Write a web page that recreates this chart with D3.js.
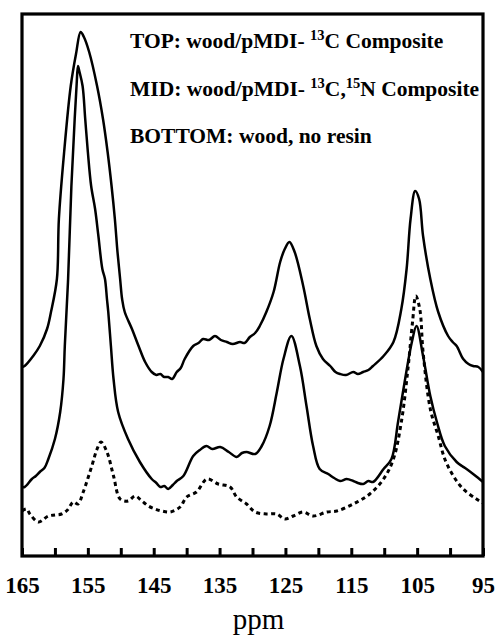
<!DOCTYPE html>
<html>
<head>
<meta charset="utf-8">
<script src="https://cdn.jsdelivr.net/npm/d3@7"></script>
<style>
  body { margin: 0; background: #fff; }
  svg { display: block; }
</style>
</head>
<body>
<script>
const width = 500;
const height = 640;

// frame of the spectrum box
const LEFT = 22, RIGHT = 483, TOP = 14, BOTTOM = 556;

// x axis, ppm (reversed, as usual for NMR)
const ppmDomain = [165, 95];
const tickValues = [165, 160, 155, 150, 145, 140, 135, 130, 125, 120, 115, 110, 105, 100, 95];
const labelValues = [165, 155, 145, 135, 125, 115, 105, 95];

// legend lines: [text, isSuperscript]
const legendLines = [
  [["TOP: wood/pMDI- ", 0], ["13", 1], ["C Composite", 0]],
  [["MID: wood/pMDI- ", 0], ["13", 1], ["C,", 0], ["15", 1], ["N Composite", 0]],
  [["BOTTOM: wood, no resin", 0]]
];

// spectra: [ppm, intensity (a.u.)]
const topSpectrum = [
  [165.0, 189], [164.6, 190], [163.3, 200], [162.3, 210], [161.2, 227], [160.6, 244],
  [159.7, 277], [159.4, 337], [158.6, 404], [157.6, 470], [156.8, 502], [156.1, 524],
  [155.6, 519], [154.8, 504], [153.6, 470], [152.7, 437], [152.0, 404], [151.4, 370],
  [150.9, 337], [150.5, 304], [150.1, 277], [149.8, 257], [149.4, 244], [148.3, 227],
  [147.3, 210], [146.3, 194], [145.3, 184], [144.6, 181], [144.0, 182], [143.4, 179],
  [142.8, 179], [142.2, 177], [141.5, 184], [140.9, 188], [140.3, 197], [139.0, 210],
  [138.2, 213], [137.5, 217], [136.6, 216], [135.7, 220], [134.8, 216], [133.9, 214],
  [133.0, 212], [131.9, 214], [131.2, 213], [130.4, 219], [129.6, 223], [128.9, 230],
  [127.9, 244], [126.8, 264], [125.8, 294], [125.1, 307], [124.4, 314], [123.6, 304],
  [122.3, 270], [121.3, 237], [120.3, 210], [119.3, 197], [118.2, 190], [117.4, 184],
  [116.7, 182], [115.8, 181], [114.7, 184], [114.0, 182], [113.2, 184], [112.4, 186],
  [111.7, 190], [110.1, 200], [108.6, 214], [107.4, 247], [106.6, 287], [106.0, 337],
  [105.3, 365], [104.7, 357], [104.1, 320], [103.0, 277], [101.8, 244], [100.3, 220],
  [99.6, 214], [99.0, 210], [98.0, 197], [97.2, 192], [96.5, 190], [95.7, 189], [95.0, 184]
];

const midSpectrum = [
  [165.0, 69], [164.6, 69], [163.5, 77], [162.9, 80], [162.3, 84], [161.6, 88],
  [161.0, 97], [160.0, 117], [159.2, 144], [158.7, 177], [158.5, 210], [158.0, 277],
  [157.5, 370], [157.0, 437], [156.7, 472], [156.5, 490], [156.3, 485], [155.8, 470],
  [155.4, 437], [155.0, 404], [154.5, 370], [153.9, 347], [153.4, 320], [152.8, 287],
  [152.4, 277], [152.1, 257], [151.9, 244], [151.5, 210], [151.1, 177], [150.4, 144],
  [148.9, 117], [147.1, 94], [145.3, 77], [144.6, 73], [144.0, 69], [143.4, 70],
  [142.8, 67], [142.1, 71], [141.5, 75], [140.5, 80], [139.0, 100], [138.0, 106],
  [137.0, 110], [136.1, 107], [134.9, 109], [133.6, 104], [132.4, 99], [131.6, 103],
  [130.9, 104], [129.6, 102], [128.6, 110], [127.4, 130], [126.3, 164], [125.3, 197],
  [124.1, 220], [122.8, 190], [121.8, 150], [120.8, 110], [119.8, 87], [118.5, 82],
  [117.6, 78], [116.7, 75], [115.7, 77], [114.7, 75], [114.0, 73], [113.2, 72],
  [112.4, 75], [111.7, 74], [110.1, 87], [108.9, 97], [107.9, 134], [106.9, 174],
  [105.8, 214], [105.1, 230], [104.1, 200], [103.0, 160], [102.0, 134], [100.8, 110],
  [99.0, 94], [98.2, 90], [97.5, 87], [96.3, 81], [95.0, 74]
];

const bottomSpectrum = [
  [165.0, 45], [164.3, 47], [163.8, 42], [162.5, 34], [161.0, 40], [160.0, 41],
  [159.0, 42], [158.1, 46], [157.2, 54], [156.5, 52], [155.7, 64], [154.4, 90],
  [153.6, 107], [153.0, 114], [152.1, 104], [151.1, 80], [150.1, 57], [148.9, 55],
  [147.8, 60], [146.8, 55], [145.8, 50], [144.8, 47], [143.8, 45], [142.5, 44],
  [141.0, 49], [140.0, 59], [138.5, 64], [136.9, 77], [135.2, 72], [133.4, 69],
  [132.4, 59], [130.9, 52], [129.6, 44], [127.9, 42], [126.3, 42], [125.1, 37],
  [123.8, 40], [122.3, 44], [120.8, 40], [118.7, 44], [117.2, 45], [114.7, 52],
  [112.2, 62], [110.1, 77], [108.6, 97], [107.4, 134], [106.4, 187], [105.7, 234],
  [105.2, 260], [104.6, 247], [104.1, 204], [103.0, 147], [101.8, 120], [100.8, 97],
  [99.5, 80], [98.0, 67], [96.0, 57], [95.0, 53]
];

const svg = d3.select("body")
  .append("svg")
  .attr("width", width)
  .attr("height", height);

const x = d3.scaleLinear().domain(ppmDomain).range([LEFT, RIGHT]);
const y = d3.scaleLinear().domain([0, 542]).range([BOTTOM, TOP]);

const line = d3.line()
  .x(function (d) { return x(d[0]); })
  .y(function (d) { return y(d[1]); })
  .curve(d3.curveCatmullRom.alpha(0.5));

// spectra
[topSpectrum, midSpectrum].forEach(function (s) {
  svg.append("path")
    .attr("d", line(s))
    .attr("fill", "none")
    .attr("stroke", "#000")
    .attr("stroke-width", 2.5)
    .attr("stroke-linejoin", "round");
});

svg.append("path")
  .attr("d", line(bottomSpectrum))
  .attr("fill", "none")
  .attr("stroke", "#000")
  .attr("stroke-width", 3)
  .attr("stroke-dasharray", "4,3.5");

// frame
svg.append("rect")
  .attr("x", LEFT)
  .attr("y", TOP)
  .attr("width", RIGHT - LEFT)
  .attr("height", BOTTOM - TOP)
  .attr("fill", "none")
  .attr("stroke", "#000")
  .attr("stroke-width", 3.2);

// x axis, ticks pointing inward
const axis = d3.axisBottom(x)
  .tickValues(tickValues)
  .tickSizeInner(-8)
  .tickSizeOuter(0)
  .tickPadding(21)
  .tickFormat(function (d) { return labelValues.indexOf(d) >= 0 ? d : ""; });

const gx = svg.append("g")
  .attr("transform", "translate(0," + BOTTOM + ")")
  .call(axis);

gx.select(".domain").remove();
gx.selectAll(".tick line")
  .attr("stroke", "#000")
  .attr("stroke-width", 3);
gx.selectAll(".tick text")
  .attr("fill", "#000")
  .attr("font-family", "'Liberation Serif', 'Times New Roman', serif")
  .attr("font-weight", "bold")
  .attr("font-size", "23px");

// axis title
svg.append("text")
  .attr("x", (LEFT + RIGHT) / 2 + 6)
  .attr("y", 629)
  .attr("text-anchor", "middle")
  .attr("font-family", "'Liberation Serif', 'Times New Roman', serif")
  .attr("font-size", "29px")
  .attr("fill", "#000")
  .text("ppm");

// legend
const legend = svg.append("g")
  .attr("font-family", "'Liberation Serif', 'Times New Roman', serif")
  .attr("font-weight", "bold")
  .attr("font-size", "21.5px")
  .attr("fill", "#000");

legendLines.forEach(function (parts, i) {
  const t = legend.append("text")
    .attr("x", 130)
    .attr("y", 48 + i * 47.5);
  parts.forEach(function (p, j) {
    const span = t.append("tspan").text(p[0]);
    if (p[1]) {
      span.attr("font-size", "14.5px").attr("dy", -8);
    } else if (j > 0 && parts[j - 1][1]) {
      span.attr("dy", 8);
    }
  });
});
</script>
</body>
</html>
